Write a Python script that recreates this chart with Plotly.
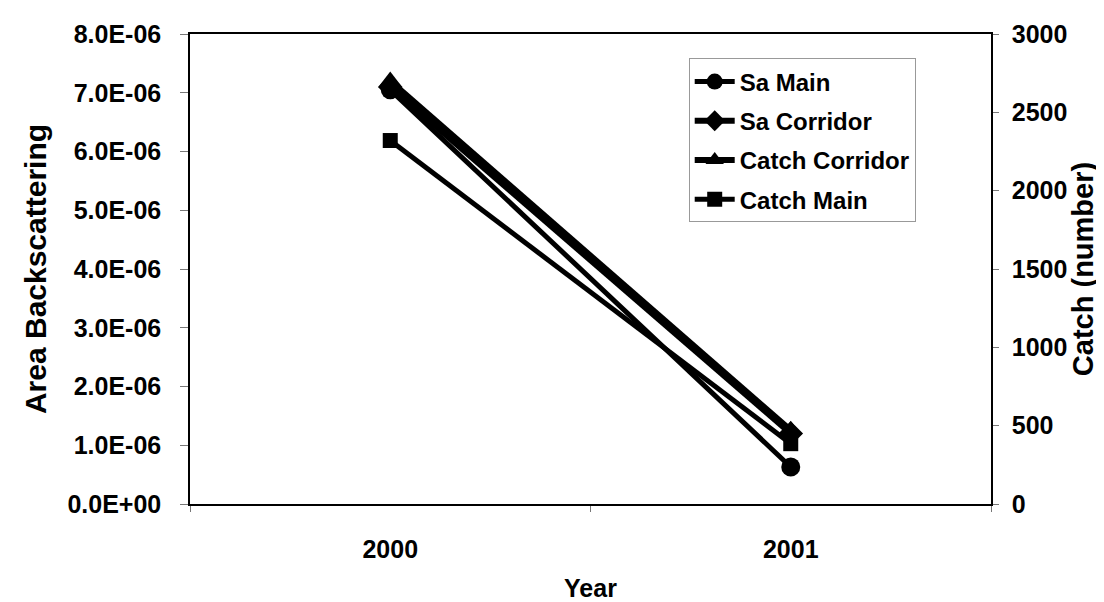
import plotly.graph_objects as go

years = ["2000", "2001"]
sa_main = [7.05e-6, 0.63e-6]
sa_corridor = [7.1e-6, 1.2e-6]
catch_corridor = [2700, 470]
catch_main = [2320, 385]

left_ticks = [i * 1e-6 for i in range(9)]
left_labels = ["0.0E+00", "1.0E-06", "2.0E-06", "3.0E-06", "4.0E-06",
               "5.0E-06", "6.0E-06", "7.0E-06", "8.0E-06"]
right_ticks = [0, 500, 1000, 1500, 2000, 2500, 3000]

FONT = "Liberation Sans"
fig = go.Figure()

fig.add_trace(go.Scatter(x=years, y=sa_main, name="<b>Sa Main</b>", mode="lines+markers",
                         line=dict(color="black", width=5), legendgroup="a",
                         marker=dict(symbol="circle", size=19, color="black")))
fig.add_trace(go.Scatter(x=years, y=sa_corridor, name="<b>Sa Corridor</b>", mode="lines+markers",
                         line=dict(color="black", width=6), legendgroup="b",
                         marker=dict(symbol="diamond", size=19, color="black")))
fig.add_trace(go.Scatter(x=years, y=catch_corridor, name="<b>Catch Corridor</b>", mode="lines+markers",
                         line=dict(color="black", width=6), yaxis="y2", legendgroup="c",
                         marker=dict(symbol="triangle-up", size=19, color="black")))
fig.add_trace(go.Scatter(x=years, y=catch_main, name="<b>Catch Main</b>", mode="lines+markers",
                         line=dict(color="black", width=5), yaxis="y2", legendgroup="d",
                         marker=dict(symbol="square", size=15, color="black")))

fig.update_layout(
    width=1104, height=602,
    margin=dict(l=182, r=121, t=24, b=99),
    paper_bgcolor="white", plot_bgcolor="white",
    font=dict(family=FONT, color="black", size=24),
    showlegend=True,
    legend=dict(x=0.906, y=0.948, xanchor="right", yanchor="top",
                bgcolor="white", bordercolor="#999999", borderwidth=1,
                font=dict(family=FONT, size=24, color="black"),
                tracegroupgap=5, itemwidth=40),
    xaxis=dict(type="category", range=[-0.5, 1.5],
               tickvals=years, ticktext=["<b>2000</b>", "<b>2001</b>"],
               showline=True, linecolor="black", linewidth=1.5, mirror=True,
               ticks="outside", tickson="boundaries", ticklen=6, tickcolor="#777",
               showgrid=False, zeroline=False,
               tickfont=dict(size=25), ticklabelstandoff=22,
               title=dict(text="<b>Year</b>", font=dict(size=25), standoff=18)),
    yaxis=dict(range=[0, 8e-6], tickvals=left_ticks,
               ticktext=["<b>%s</b>" % t for t in left_labels],
               showline=True, linecolor="black", linewidth=1.5,
               ticks="outside", ticklen=8, tickcolor="#777",
               showgrid=False, zeroline=False,
               tickfont=dict(size=25), ticklabelstandoff=14,
               title=dict(text="<b>Area Backscattering</b>", font=dict(size=30), standoff=12)),
    yaxis2=dict(range=[0, 3000], tickvals=right_ticks,
                ticktext=["<b>%d</b>" % t for t in right_ticks],
                overlaying="y", side="right",
                showline=True, linecolor="black", linewidth=1.5,
                ticks="outside", ticklen=6, tickcolor="#777",
                showgrid=False, zeroline=False,
                tickfont=dict(size=25), ticklabelstandoff=8,
                title=dict(text="<b>Catch (number)</b>", font=dict(size=29), standoff=6)),
)

fig.write_html("out.html")
